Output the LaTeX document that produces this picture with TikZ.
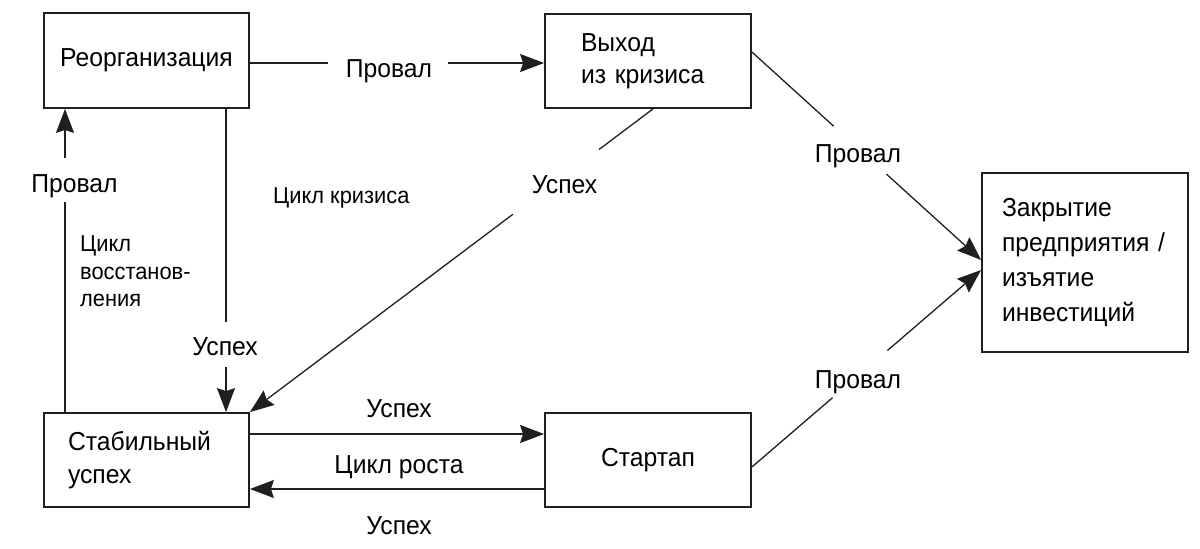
\documentclass[tikz,border=0pt]{standalone}
\usepackage{fontspec}
\setmainfont{Liberation Sans}[FakeStretch=0.95]
\usetikzlibrary{arrows.meta}
\begin{document}
\begin{tikzpicture}[x=1pt,y=-1pt,
  box/.style={draw=black!88, line width=1.8pt, inner xsep=0pt, inner ysep=0pt,
    font=\fontsize{26}{32}\selectfont},
  conn/.style={line width=1.3pt, draw=black!88},
  tip/.style={-{Stealth[length=24pt,width=18pt,inset=3pt]}},
  lbl/.style={inner sep=0pt, anchor=base, font=\fontsize{26}{32}\selectfont},
  small/.style={inner sep=0pt, align=left, font=\fontsize{23}{27.5}\selectfont}]
\useasboundingbox (0,0) rectangle (1200,549);

% boxes
\node[box, minimum width=205pt, minimum height=95pt] (reorg) at (146.5,60.5) {Реорганизация};
\node[box, minimum width=206pt, minimum height=94pt, text width=134pt, inner xsep=36pt,
  align=left, font=\fontsize{26}{32}\selectfont] (exit) at (648,61) {Выход\\из кризиса};
\node[box, minimum width=206pt, minimum height=179pt, text width=166pt, inner xsep=20pt,
  align=left, font=\fontsize{26}{34.7}\selectfont] (close) at (1085,262.5)
  {Закрытие\\предприятия~/\\изъятие\\инвестиций};
\node[box, minimum width=205pt, minimum height=94pt, text width=157pt, inner xsep=24pt,
  align=left, font=\fontsize{26}{33}\selectfont] (stable) at (146.5,460) {Стабильный\\успех};
\node[box, minimum width=206pt, minimum height=94pt] (startup) at (648,460) {Стартап};

% end points on the boxes
\coordinate (re) at ([yshift=-2.5pt]reorg.east);
\coordinate (xw) at ([yshift=-2pt]exit.west);
\coordinate (s1) at ([xshift=-81.5pt]stable.north);
\coordinate (r1) at ([xshift=-81.5pt]reorg.south);
\coordinate (r2) at ([xshift=79.5pt]reorg.south);
\coordinate (s2) at ([xshift=79.5pt]stable.north);
\coordinate (e1) at ([xshift=5pt]exit.south);
\coordinate (e2) at ([yshift=9pt]exit.east);
\coordinate (c1) at ([yshift=2.5pt]close.west);
\coordinate (t1) at ([yshift=-7pt]startup.east);
\coordinate (c2) at ([yshift=-7.5pt]close.west);

% Reorganisation -> Exit
\path (re) -- coordinate[pos=0.267] (a1) coordinate[pos=0.672] (a2) (xw);
\draw[conn] (re) -- (a1);
\draw[conn,tip] (a2) -- (xw);
\node[lbl] (l1) at (389,77) {Провал};

% Stable -> Reorganisation
\path (s1) -- coordinate[pos=0.692] (b1) coordinate[pos=0.839] (b2) (r1);
\draw[conn] (s1) -- (b1);
\draw[conn,tip] (b2) -- (r1);
\node[lbl] (l2) at (74.5,192) {Провал};

% Reorganisation -> Stable
\path (r2) -- coordinate[pos=0.7016] (d1) coordinate[pos=0.852] (d2) (s2);
\draw[conn] (r2) -- (d1);
\draw[conn,tip] (d2) -- (s2);
\node[lbl] (l3) at (225,355) {Успех};

% Exit -> Stable
\path (e1) -- coordinate[pos=0.134] (f1) coordinate[pos=0.3475] (f2) (stable.north east);
\draw[conn] (e1) -- (f1);
\draw[conn,tip] (f2) -- (stable.north east);
\node[lbl] (l4) at (564.5,193) {Успех};

% Exit -> Closure
\path (e2) -- coordinate[pos=0.357] (g1) coordinate[pos=0.587] (g2) (c1);
\draw[conn] (e2) -- (g1);
\draw[conn,tip] (g2) -- (c1);
\node[lbl] (l5) at (858,162) {Провал};

% Startup -> Closure
\path (t1) -- coordinate[pos=0.352] (h1) coordinate[pos=0.591] (h2) (c2);
\draw[conn] (t1) -- (h1);
\draw[conn,tip] (h2) -- (c2);
\node[lbl] (l6) at (858,388) {Провал};

% Stable <-> Startup
\draw[conn,tip] ([yshift=26pt]stable.east) -- ([yshift=26pt]startup.west);
\draw[conn,tip] ([yshift=-29pt]startup.west) -- ([yshift=-29pt]stable.east);
\node[lbl] (l7) at (399,417) {Успех};
\node[lbl] (l8) at (399,473) {Цикл роста};
\node[lbl] (l9) at (399,534) {Успех};

% cycle names
\node[small, anchor=base west] (k1) at (273,203) {Цикл кризиса};
\node[small, anchor=north west] (k2) at (80,235.5) {Цикл\\восстанов-\\ления};
\end{tikzpicture}
\end{document}
